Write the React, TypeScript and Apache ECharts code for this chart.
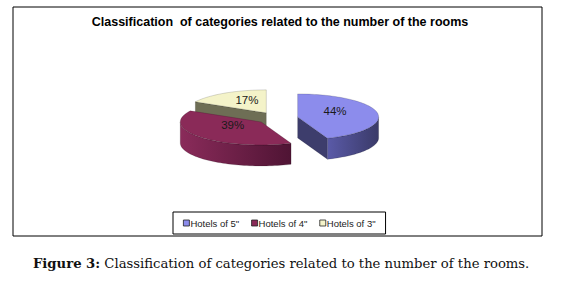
import React, { useEffect, useRef } from "react";
import * as echarts from "echarts";

// ---- data ----
const categories = ['Hotels of 5"', 'Hotels of 4"', 'Hotels of 3"'];
const shares = [44, 39, 17];
const shareLabels = ["44%", "39%", "17%"];
const titleText = "Classification  of categories related to the number of the rooms";
const captionBold = "Figure 3:";
const captionText = " Classification of categories related to the number of the rooms.";

// ---- styles ----
const topColors = ["#8C8CEC", "#8A2A58", "#F4F3C9"];
const wallColors = [
  ["#5A5AA8", "#3A3A68"],
  ["#8A2B5A", "#4F1434"],
  ["#6E6E55", "#6E6E55"],
];
const radialWallColors = ["#3D3D6C", "#5A1A3C", "#6E6E55"];
const drawOrder = [2, 3, 1]; // z per slice

const CX = 277;
const CY = 118;
const RX = 81;
const RY = 23;
const DEPTH = 21;
const EXPLODE = 21;

const rad = (d: number) => (d * Math.PI) / 180;

function makeRender(i: number) {
  return (params: any, api: any) => {
    const total = shares.reduce((a, b) => a + b, 0);
    let before = 0;
    for (let j = 0; j < i; j++) before += shares[j];
    const v = api.value(0);
    const start = (before / total) * 360;
    const end = start + (v / total) * 360;
    const mid = (start + end) / 2;
    const ox = CX + EXPLODE * Math.sin(rad(mid));
    const oy = CY - EXPLODE * Math.cos(rad(mid)) * (RY / RX);
    const rim = (t: number, dy = 0) => [ox + RX * Math.sin(rad(t)), oy - RY * Math.cos(rad(t)) + dy];
    const arc = (a: number, b: number, dy = 0) => {
      const pts: number[][] = [];
      const n = Math.max(2, Math.ceil(Math.abs(b - a) / 2));
      for (let k = 0; k <= n; k++) pts.push(rim(a + ((b - a) * k) / n, dy));
      return pts;
    };
    const children: any[] = [];
    if (Math.cos(rad(start - 90)) < -0.01) {
      const p = rim(start);
      children.push({
        type: "polygon",
        shape: { points: [[ox, oy], p, [p[0], p[1] + DEPTH], [ox, oy + DEPTH]] },
        style: { fill: radialWallColors[i], stroke: "rgba(0,0,0,0.25)", lineWidth: 0.5 },
      });
    }
    if (Math.cos(rad(end + 90)) < -0.01) {
      const p = rim(end);
      children.push({
        type: "polygon",
        shape: { points: [[ox, oy], p, [p[0], p[1] + DEPTH], [ox, oy + DEPTH]] },
        style: { fill: radialWallColors[i], stroke: "rgba(0,0,0,0.25)", lineWidth: 0.5 },
      });
    }
    const ws = Math.max(start, 90);
    const we = Math.min(end, 270);
    if (we > ws) {
      const pts = arc(ws, we).concat(arc(we, ws, DEPTH));
      children.push({
        type: "polygon",
        shape: { points: pts },
        style: {
          fill: new echarts.graphic.LinearGradient(0, 0, 1, 0, [
            { offset: 0, color: wallColors[i][0] },
            { offset: 1, color: wallColors[i][1] },
          ]),
          stroke: "rgba(0,0,0,0.3)",
          lineWidth: 0.5,
        },
      });
    }
    children.push({
      type: "polygon",
      shape: { points: [[ox, oy]].concat(arc(start, end)) },
      style: { fill: topColors[i], stroke: "rgba(0,0,0,0.3)", lineWidth: 0.5 },
    });
    const k = 0.47;
    children.push({
      type: "text",
      x: ox + k * RX * Math.sin(rad(mid)),
      y: oy - k * RY * Math.cos(rad(mid)) - 4,
      style: {
        text: shareLabels[i],
        fill: "#1a1a1a",
        font: "11.5px 'Liberation Sans', Arial, sans-serif",
        align: "center",
        verticalAlign: "middle",
      },
    });
    return { type: "group", children };
  };
}

export default function App() {
  const ref = useRef<HTMLDivElement>(null);
  useEffect(() => {
    if (!ref.current) return;
    const chart = echarts.init(ref.current, undefined, { renderer: "svg" });
    chart.setOption({
      animation: false,
      backgroundColor: "#ffffff",
      legend: {
        data: categories,
        left: 173,
        top: 212,
        width: 210,
        padding: [6, 10, 6, 10],
        itemGap: 12,
        itemWidth: 6,
        itemHeight: 6,
        icon: "rect",
        borderColor: "#000",
        borderWidth: 1,
        itemStyle: { borderColor: "#222", borderWidth: 0.8 },
        textStyle: {
          fontSize: 9.5,
          fontFamily: "'Liberation Sans', Arial, sans-serif",
          color: "#222",
          padding: [0, 0, 0, -4],
        },
        selectedMode: false,
      },
      graphic: [
        {
          type: "rect",
          shape: { x: 13, y: 7, width: 529, height: 229 },
          style: { fill: "none", stroke: "#000", lineWidth: 1 },
          z: -1,
        },
        {
          type: "text",
          x: 280,
          y: 22,
          style: {
            text: titleText,
            font: "bold 12.5px 'Liberation Sans', Arial, sans-serif",
            fill: "#000",
            align: "center",
            verticalAlign: "middle",
          },
        },
        {
          type: "text",
          x: 33,
          y: 263,
          style: {
            rich: {
              b: { font: "bold 13.2px 'DejaVu Serif', serif", fill: "#111" },
              n: { font: "13.2px 'DejaVu Serif', serif", fill: "#111" },
            },
            text: "{b|" + captionBold + "}{n|" + captionText + "}",
            verticalAlign: "middle",
          },
        },
      ],
      series: categories.map((name, i) => ({
        type: "custom",
        name,
        coordinateSystem: "none",
        z: drawOrder[i],
        itemStyle: { color: topColors[i] },
        renderItem: makeRender(i),
        data: [[shares[i]]],
      })),
    });
    return () => chart.dispose();
  }, []);
  return (
    <div
      ref={ref}
      style={{ position: "absolute", left: 0, top: 0, width: 586, height: 284, background: "#fff" }}
    />
  );
}
